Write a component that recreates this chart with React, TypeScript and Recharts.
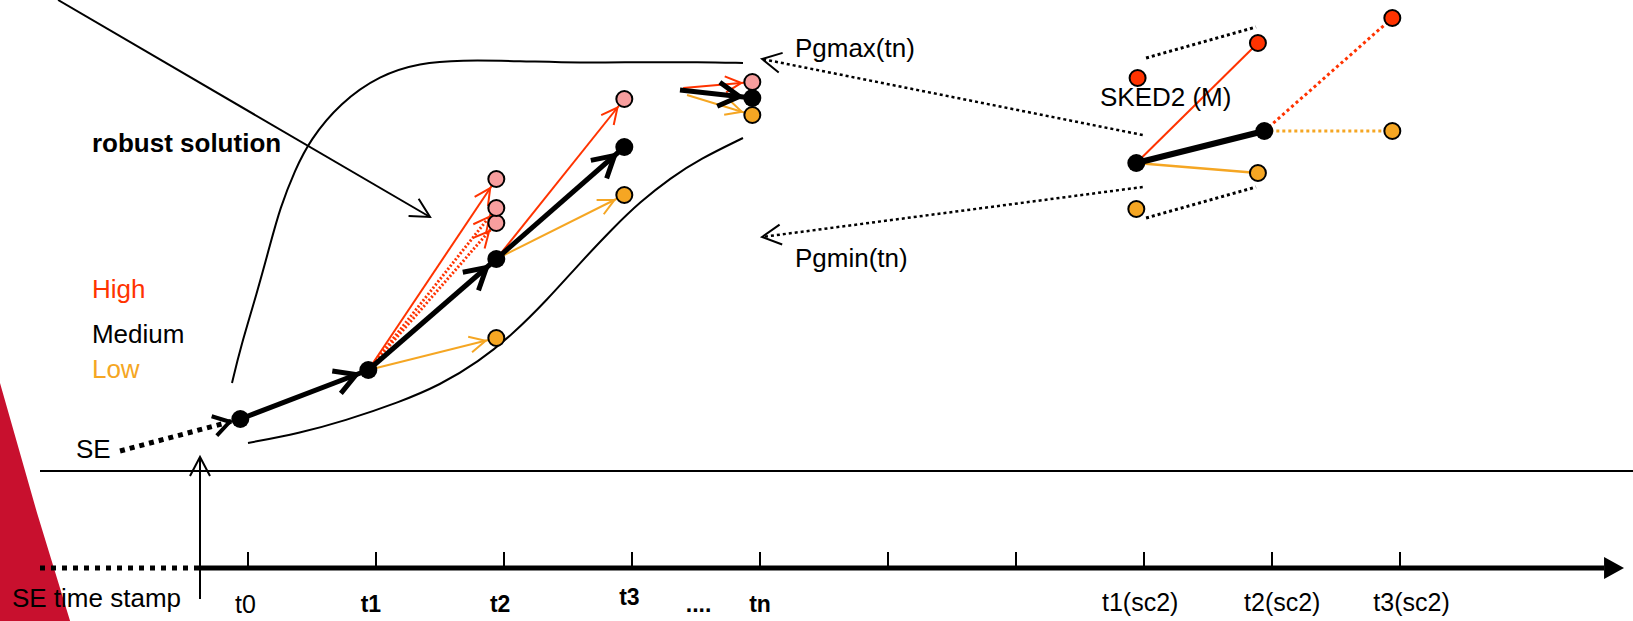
import React from 'react';
import { ComposedChart, Line, Area, Scatter, XAxis, YAxis } from 'recharts';

// time index axis (t) and a generic level axis (v)
const X_DOMAIN: [number, number] = [-1.9375, 10.8203];
const Y_DOMAIN: [number, number] = [-5.3, 56.8];

const RED = '#FF3300';
const ORANGE = '#F5A623';
const PINK = '#F79E9E';
const CRIMSON = '#C8102E';
const FONT = '"Liberation Sans", Arial, Helvetica, sans-serif';

// ---- data ----
const timeTicks = [0, 1, 2, 3, 4, 5, 6, 7, 8, 9];

const tickLabels = [
  { t: -0.02, v: -4.5, text: 't0', kind: 'tick' },
  { t: 0.96, v: -4.4, text: 't1', kind: 'tickBold' },
  { t: 1.97, v: -4.4, text: 't2', kind: 'tickBold' },
  { t: 2.98, v: -3.7, text: 't3', kind: 'tickBold' },
  { t: 3.52, v: -4.4, text: '....', kind: 'tickBold' },
  { t: 4.0, v: -4.4, text: 'tn', kind: 'tickBold' },
  { t: 6.97, v: -4.3, text: 't1(sc2)', kind: 'tick' },
  { t: 8.08, v: -4.3, text: 't2(sc2)', kind: 'tick' },
  { t: 9.09, v: -4.3, text: 't3(sc2)', kind: 'tick' },
];

const annotations = [
  { t: -1.219, v: 41.6, text: 'robust solution', kind: 'bold' },
  { t: -1.219, v: 27.0, text: 'High', kind: 'high' },
  { t: -1.219, v: 22.5, text: 'Medium', kind: 'plain' },
  { t: -1.219, v: 19.0, text: 'Low', kind: 'low' },
  { t: -1.344, v: 11.0, text: 'SE', kind: 'plain' },
  { t: -1.844, v: -3.9, text: 'SE time stamp', kind: 'plain' },
  { t: 4.273, v: 51.1, text: 'Pgmax(tn)', kind: 'plain' },
  { t: 4.273, v: 30.1, text: 'Pgmin(tn)', kind: 'plain' },
  { t: 6.656, v: 46.2, text: 'SKED2 (M)', kind: 'plain' },
];

const mediumStates = [
  { t: -0.06, v: 14.9 },
  { t: 0.94, v: 19.8 },
  { t: 1.94, v: 30.9 },
  { t: 2.94, v: 42.1 },
  { t: 3.94, v: 47.0 },
];
const highStates = [
  { t: 1.94, v: 38.9 },
  { t: 1.94, v: 34.5 },
  { t: 1.94, v: 36.0 },
  { t: 2.94, v: 46.9 },
  { t: 3.94, v: 48.6 },
];
const lowStates = [
  { t: 1.94, v: 23.0 },
  { t: 2.94, v: 37.3 },
  { t: 3.94, v: 45.3 },
];

const sked2Medium = [
  { t: 6.94, v: 40.5 },
  { t: 7.94, v: 43.7 },
];
const sked2High = [
  { t: 6.95, v: 49.0 },
  { t: 7.89, v: 52.5 },
  { t: 8.94, v: 55.0 },
];
const sked2Low = [
  { t: 6.94, v: 35.9 },
  { t: 7.89, v: 39.5 },
  { t: 8.94, v: 43.7 },
];

const upperBound = [
  { t: -0.125, v: 18.5 },
  { t: -0.06, v: 22.0 },
  { t: 0.07, v: 27.5 },
  { t: 0.172, v: 32.3 },
  { t: 0.25, v: 36.0 },
  { t: 0.367, v: 39.8 },
  { t: 0.484, v: 42.8 },
  { t: 0.719, v: 46.5 },
  { t: 1.031, v: 49.3 },
  { t: 1.344, v: 50.5 },
  { t: 1.656, v: 50.8 },
  { t: 2.125, v: 50.7 },
  { t: 2.594, v: 50.5 },
  { t: 3.063, v: 50.6 },
  { t: 3.531, v: 50.6 },
  { t: 3.867, v: 50.5 },
];
const lowerBound = [
  { t: 0.0, v: 12.5 },
  { t: 0.406, v: 13.5 },
  { t: 0.75, v: 14.7 },
  { t: 1.1875, v: 16.6 },
  { t: 1.5, v: 18.3 },
  { t: 1.8, v: 20.6 },
  { t: 2.07, v: 23.4 },
  { t: 2.336, v: 26.8 },
  { t: 2.594, v: 30.5 },
  { t: 2.852, v: 34.0 },
  { t: 3.0625, v: 36.6 },
  { t: 3.3, v: 39.0 },
  { t: 3.531, v: 40.9 },
  { t: 3.867, v: 43.0 },
];

const seStart = { t: -1.0, v: 11.7 };
const tnMediumStart = { t: 3.375, v: 47.8 };
const tnHighStart = { t: 3.4, v: 48.0 };
const tnLowStart = { t: 3.43, v: 47.3 };

const decisionArrows = [
  { from: seStart, to: mediumStates[0], kind: 'se' },
  { from: mediumStates[1], to: highStates[0], kind: 'high' },
  { from: mediumStates[1], to: highStates[2], kind: 'highDotted' },
  { from: mediumStates[1], to: highStates[1], kind: 'highDotted' },
  { from: mediumStates[1], to: lowStates[0], kind: 'low' },
  { from: mediumStates[2], to: highStates[3], kind: 'high' },
  { from: mediumStates[2], to: lowStates[1], kind: 'low' },
  { from: tnHighStart, to: highStates[4], kind: 'high' },
  { from: tnLowStart, to: lowStates[2], kind: 'low' },
  { from: mediumStates[0], to: mediumStates[1], kind: 'medium' },
  { from: mediumStates[1], to: mediumStates[2], kind: 'medium' },
  { from: mediumStates[2], to: mediumStates[3], kind: 'medium' },
  { from: tnMediumStart, to: mediumStates[4], kind: 'medium' },
];

const sked2Segments = [
  { from: sked2Medium[0], to: sked2High[1], kind: 'highLine' },
  { from: sked2Medium[0], to: sked2Low[1], kind: 'lowLine' },
  { from: sked2Medium[1], to: sked2High[2], kind: 'highDottedLine' },
  { from: sked2Medium[1], to: sked2Low[2], kind: 'lowDottedLine' },
  { from: sked2Medium[0], to: sked2Medium[1], kind: 'mediumLine' },
  { from: { t: 7.016, v: 51.0 }, to: { t: 7.875, v: 54.1 }, kind: 'envelope' },
  { from: { t: 7.016, v: 35.0 }, to: { t: 7.875, v: 38.1 }, kind: 'envelope' },
];

const pointerArrows = [
  { from: { t: 6.99, v: 43.3 }, to: { t: 4.016, v: 50.9 }, kind: 'pg' },
  { from: { t: 6.99, v: 38.1 }, to: { t: 4.016, v: 33.1 }, kind: 'pg' },
  { from: { t: -1.484, v: 56.8 }, to: { t: 1.422, v: 35.1 }, kind: 'pointer' },
  { from: { t: -0.375, v: -3.1 }, to: { t: -0.375, v: 11.1 }, kind: 'pointer' },
];

const separator = [
  { t: -1.625, v: 9.7 },
  { t: 10.8203, v: 9.7 },
];
const timeAxisDotted = [
  { t: -1.625, v: 0 },
  { t: -0.375, v: 0 },
];
const timeAxisSolid = [
  { t: -0.375, v: 0 },
  { t: 10.594, v: 0 },
];
const tickHeight = 1.6;

const wedge = [
  { t: -1.9375, v: 18.5 },
  { t: -1.648, v: 5.5 },
  { t: -1.39, v: -5.3 },
];

// ---- styles ----
type SegStyle = { stroke: string; width: number; dash?: string; marker?: string };
const SEG_STYLE: Record<string, SegStyle> = {
  se: { stroke: '#000', width: 5, dash: '5 5', marker: 'headSE' },
  medium: { stroke: '#000', width: 5, marker: 'headMedium' },
  high: { stroke: RED, width: 2, marker: 'headHigh' },
  highDotted: { stroke: RED, width: 3, dash: '2 2', marker: 'headHigh' },
  low: { stroke: ORANGE, width: 2, marker: 'headLow' },
  pg: { stroke: '#000', width: 2.5, dash: '3 3', marker: 'headOpen' },
  pointer: { stroke: '#000', width: 2, marker: 'headOpen' },
  mediumLine: { stroke: '#000', width: 6 },
  highLine: { stroke: RED, width: 2 },
  lowLine: { stroke: ORANGE, width: 2.5 },
  highDottedLine: { stroke: RED, width: 3, dash: '3 3' },
  lowDottedLine: { stroke: ORANGE, width: 3, dash: '3 3' },
  envelope: { stroke: '#000', width: 3, dash: '3 3' },
};

const TEXT_STYLE: Record<string, any> = {
  plain: { fontSize: 26, fill: '#000', textAnchor: 'start' },
  bold: { fontSize: 26, fill: '#000', fontWeight: 700, textAnchor: 'start' },
  high: { fontSize: 26, fill: RED, textAnchor: 'start' },
  low: { fontSize: 26, fill: ORANGE, textAnchor: 'start' },
  tick: { fontSize: 25, fill: '#000', textAnchor: 'middle' },
  tickBold: { fontSize: 23, fill: '#000', fontWeight: 700, textAnchor: 'middle' },
};

const TextMark = (props: any) => {
  const { cx, cy, payload } = props;
  const st = TEXT_STYLE[payload.kind];
  return (
    <text x={cx} y={cy} fontFamily={FONT} {...st}>
      {payload.text}
    </text>
  );
};

const dotShape = (fill: string, r: number, stroke?: string) => (props: any) => (
  <circle cx={props.cx} cy={props.cy} r={r} fill={fill} stroke={stroke || 'none'} strokeWidth={stroke ? 2 : 0} />
);

const openHead = (id: string, color: string, len: number, half: number, sw: number, back: number) => (
  <marker
    key={id}
    id={id}
    viewBox="-40 -20 50 40"
    markerWidth={50}
    markerHeight={40}
    refX={back}
    refY={0}
    orient="auto"
    markerUnits="userSpaceOnUse"
    style={{ overflow: 'visible' }}
  >
    <path
      d={`M${-len},${-half} L0,0 L${-len},${half}`}
      fill="none"
      stroke={color}
      strokeWidth={sw}
      strokeLinecap="butt"
      strokeLinejoin="miter"
    />
  </marker>
);

const segLine = (seg: any, i: number, prefix: string) => {
  const st = SEG_STYLE[seg.kind];
  return (
    <Line
      key={`${prefix}${i}`}
      data={[seg.from, seg.to]}
      dataKey="v"
      type="linear"
      stroke={st.stroke}
      strokeWidth={st.width}
      strokeDasharray={st.dash}
      markerEnd={st.marker ? `url(#${st.marker})` : undefined}
      dot={false}
      activeDot={false}
      legendType="none"
      isAnimationActive={false}
    />
  );
};

export default function App() {
  return (
    <div style={{ position: 'absolute', left: 0, top: 0, background: '#fff' }}>
      <ComposedChart width={1633} height={621} margin={{ top: 0, right: 0, bottom: 0, left: 0 }}>
        <defs>
          {openHead('headMedium', '#000', 21, 12, 5, 13)}
          {openHead('headSE', '#000', 16, 10, 4, 11)}
          {openHead('headHigh', RED, 16, 8, 2, 11)}
          {openHead('headLow', ORANGE, 16, 8, 2, 11)}
          {openHead('headOpen', '#000', 19, 10, 2, 0)}
          <marker
            id="headAxis"
            viewBox="-5 -15 30 30"
            markerWidth={30}
            markerHeight={30}
            refX={0}
            refY={0}
            orient="auto"
            markerUnits="userSpaceOnUse"
            style={{ overflow: 'visible' }}
          >
            <path d="M0,-11 L20,0 L0,11 Z" fill="#000" />
          </marker>
        </defs>
        <XAxis type="number" dataKey="t" domain={X_DOMAIN} allowDataOverflow hide />
        <YAxis type="number" dataKey="v" domain={Y_DOMAIN} allowDataOverflow hide />

        <Area
          data={wedge}
          dataKey="v"
          type="linear"
          baseValue="dataMin"
          stroke="none"
          fill={CRIMSON}
          fillOpacity={1}
          dot={false}
          activeDot={false}
          legendType="none"
          isAnimationActive={false}
        />

        <Line data={separator} dataKey="v" type="linear" stroke="#000" strokeWidth={2} dot={false} activeDot={false} legendType="none" isAnimationActive={false} />
        <Line data={timeAxisDotted} dataKey="v" type="linear" stroke="#000" strokeWidth={5} strokeDasharray="5 6" dot={false} activeDot={false} legendType="none" isAnimationActive={false} />
        <Line data={timeAxisSolid} dataKey="v" type="linear" stroke="#000" strokeWidth={5} markerEnd="url(#headAxis)" dot={false} activeDot={false} legendType="none" isAnimationActive={false} />
        {timeTicks.map((k) => (
          <Line
            key={`tick${k}`}
            data={[{ t: k, v: 0 }, { t: k, v: tickHeight }]}
            dataKey="v"
            type="linear"
            stroke="#000"
            strokeWidth={2}
            dot={false}
            activeDot={false}
            legendType="none"
            isAnimationActive={false}
          />
        ))}

        <Line data={upperBound} dataKey="v" type="basis" stroke="#000" strokeWidth={2} dot={false} activeDot={false} legendType="none" isAnimationActive={false} />
        <Line data={lowerBound} dataKey="v" type="basis" stroke="#000" strokeWidth={2} dot={false} activeDot={false} legendType="none" isAnimationActive={false} />

        {pointerArrows.map((s, i) => segLine(s, i, 'ptr'))}
        {sked2Segments.map((s, i) => segLine(s, i, 'sk'))}
        {decisionArrows.map((s, i) => segLine(s, i, 'arr'))}

        <Scatter data={annotations} shape={TextMark} legendType="none" isAnimationActive={false} />
        <Scatter data={tickLabels} shape={TextMark} legendType="none" isAnimationActive={false} />

        <Scatter data={mediumStates} shape={dotShape('#000', 9)} legendType="none" isAnimationActive={false} />
        <Scatter data={highStates} shape={dotShape(PINK, 8, '#000')} legendType="none" isAnimationActive={false} />
        <Scatter data={lowStates} shape={dotShape(ORANGE, 8, '#000')} legendType="none" isAnimationActive={false} />
        <Scatter data={sked2Medium} shape={dotShape('#000', 9)} legendType="none" isAnimationActive={false} />
        <Scatter data={sked2High} shape={dotShape(RED, 8, '#000')} legendType="none" isAnimationActive={false} />
        <Scatter data={sked2Low} shape={dotShape(ORANGE, 8, '#000')} legendType="none" isAnimationActive={false} />
      </ComposedChart>
    </div>
  );
}
